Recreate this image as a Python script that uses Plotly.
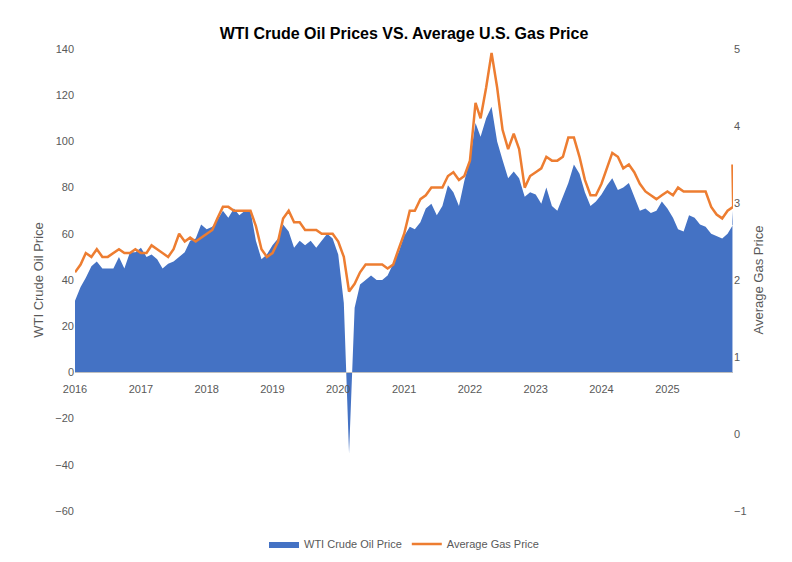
import plotly.graph_objects as go
import pandas as pd

oil = [38,31,37,41,46,48,45,45,45,50,45,52,
       52,54,50,51,49,45,47,48,50,52,57,58,
       64,62,63,66,70,67,71,68,70,70,57,49,
       51,55,58,64,61,54,57,55,57,54,57,60,
       58,51,30,-35,28,38,40,42,40,40,42,47,
       52,59,63,62,65,71,73,68,72,81,78,72,
       83,92,108,102,110,115,100,92,84,87,84,76,
       78,77,73,80,72,70,76,82,90,86,78,72,
       74,77,81,84,79,80,82,76,70,71,69,70,
       74,71,67,62,61,68,67,64,63,60,59,58,60,64,70]
gas = [2.1,2.1,2.2,2.35,2.3,2.4,2.3,2.3,2.35,2.4,2.35,2.35,
       2.4,2.35,2.35,2.45,2.4,2.35,2.3,2.4,2.6,2.5,2.55,2.5,
       2.55,2.6,2.65,2.8,2.95,2.95,2.9,2.9,2.9,2.9,2.7,2.4,
       2.3,2.35,2.5,2.8,2.9,2.75,2.75,2.65,2.65,2.65,2.6,2.6,
       2.6,2.5,2.3,1.85,1.95,2.1,2.2,2.2,2.2,2.2,2.15,2.2,
       2.4,2.6,2.9,2.9,3.05,3.1,3.2,3.2,3.2,3.35,3.4,3.3,
       3.35,3.55,4.3,4.1,4.5,4.95,4.5,3.95,3.7,3.9,3.7,3.2,
       3.35,3.4,3.45,3.6,3.55,3.55,3.6,3.85,3.85,3.6,3.3,3.1,
       3.1,3.25,3.45,3.65,3.6,3.45,3.5,3.4,3.25,3.15,3.1,3.05,
       3.1,3.15,3.1,3.2,3.15,3.15,3.15,3.15,3.15,2.95,2.85,2.8,2.9,2.95,3.5]
dates = list(pd.date_range("2015-11-15", periods=len(oil) - 1, freq="MS")) + [pd.Timestamp("2025-12-28")]
dates[0] = pd.Timestamp("2016-01-01")

fig = go.Figure()
fig.add_trace(go.Scatter(x=dates, y=oil, name="WTI Crude Oil Price", fill="tozeroy",
                         mode="lines", line=dict(width=0, color="#4472C4"),
                         fillcolor="#4472C4"))
fig.add_trace(go.Scatter(x=dates, y=gas, name="Average Gas Price", yaxis="y2",
                         mode="lines", line=dict(width=2.5, color="#ED7D31")))
fig.update_layout(
    width=792, height=562, plot_bgcolor="white", paper_bgcolor="white",
    font=dict(family="Liberation Sans", size=11, color="#595959"),
    title=dict(text="<b>WTI Crude Oil Prices VS. Average U.S. Gas Price</b>", x=0.5, y=0.965,
               font=dict(size=16, color="black")),
    margin=dict(l=67, r=67, t=41, b=47),
    xaxis=dict(range=["2016-01-01", "2025-12-31"], dtick="M12", tickformat="%Y",
               anchor="free", position=0.3, showline=True, linecolor="#BFBFBF",
               showgrid=False, ticks="", ticklabelstandoff=6),
    yaxis=dict(range=[-60, 140], dtick=20, showgrid=False, zeroline=False,
               title=dict(text="WTI Crude Oil Price", standoff=8)),
    yaxis2=dict(range=[-1, 5], dtick=1, overlaying="y", side="right", showgrid=False,
                zeroline=False, title=dict(text="Average Gas Price", standoff=8)),
    legend=dict(orientation="h", x=0.5, xanchor="center", y=-0.04, yanchor="top"),
    showlegend=True,
)
fig.write_html("out.html")
